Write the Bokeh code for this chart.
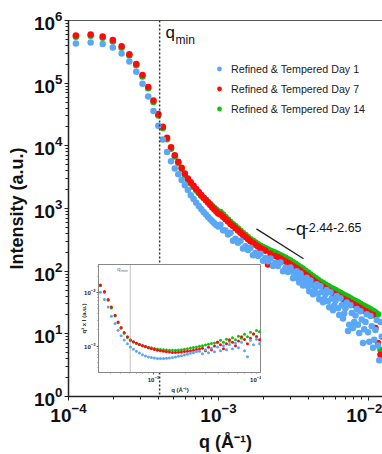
from bokeh.plotting import figure
from bokeh.models import Range1d, LogAxis, LogTicker, FixedTicker, Span, Label, Legend, LegendItem
from bokeh.layouts import column
from bokeh.embed import file_html
from bokeh.resources import INLINE

FONT = "Liberation Sans"
BLUE, RED, GREEN = "#5AA7F7", "#FF0A0A", "#12C012"

# ---------------- main plot data ----------------
Q_LOW = [1.120e-4, 1.405e-4, 1.690e-4, 1.975e-4, 2.260e-4, 2.545e-4, 2.830e-4, 3.115e-4,
         3.400e-4, 3.685e-4, 3.970e-4, 4.255e-4, 4.540e-4, 4.825e-4, 5.110e-4, 5.395e-4,
         5.680e-4, 5.965e-4, 6.250e-4, 6.535e-4, 6.820e-4, 7.105e-4, 7.390e-4, 7.675e-4,
         7.960e-4, 8.245e-4, 8.530e-4, 8.815e-4, 9.100e-4, 9.385e-4, 9.670e-4, 9.955e-4]
Q_HIGH = [1.031e-3, 1.072e-3, 1.113e-3, 1.157e-3, 1.202e-3, 1.249e-3, 1.298e-3, 1.349e-3, 1.402e-3, 1.456e-3,
          1.514e-3, 1.573e-3, 1.634e-3, 1.698e-3, 1.765e-3, 1.834e-3, 1.905e-3, 1.980e-3, 2.057e-3, 2.138e-3,
          2.222e-3, 2.309e-3, 2.399e-3, 2.493e-3, 2.590e-3, 2.692e-3, 2.797e-3, 2.906e-3, 3.020e-3, 3.138e-3,
          3.261e-3, 3.388e-3, 3.521e-3, 3.659e-3, 3.802e-3, 3.951e-3, 4.105e-3, 4.266e-3, 4.433e-3, 4.606e-3,
          4.786e-3, 4.974e-3, 5.168e-3, 5.370e-3, 5.581e-3, 5.799e-3, 6.026e-3, 6.262e-3, 6.507e-3, 6.761e-3,
          7.026e-3, 7.301e-3, 7.586e-3, 7.883e-3, 8.192e-3, 8.511e-3, 8.845e-3, 9.191e-3, 9.550e-3, 9.924e-3,
          1.031e-2, 1.072e-2, 1.113e-2, 1.157e-2, 1.202e-2]
# extra Day-1 points in the noisy high-q band
Q_BAND = [3.079e-3, 3.199e-3, 3.324e-3, 3.454e-3, 3.589e-3, 3.729e-3, 3.875e-3, 4.027e-3, 4.184e-3, 4.348e-3,
          4.519e-3, 4.695e-3, 4.879e-3, 5.070e-3, 5.268e-3, 5.474e-3, 5.689e-3, 5.911e-3, 6.142e-3, 6.383e-3,
          6.632e-3, 6.892e-3, 7.161e-3, 7.442e-3, 7.733e-3, 8.035e-3, 8.350e-3, 8.676e-3, 9.016e-3, 9.368e-3,
          9.735e-3, 1.0116e-2, 1.0512e-2, 1.0923e-2, 1.1350e-2, 1.1795e-2, 1.2256e-2]

DAY1_LOW = [4.28e5, 4.44e5, 4.21e5, 3.70e5, 2.97e5, 2.22e5, 1.52e5, 9.8e4, 6.1e4, 3.58e4,
            2.10e4, 1.26e4, 8.0e3, 5.7e3, 4.33e3, 3.52e3, 2.86e3, 2.35e3, 1.98e3, 1.62e3,
            1.42e3, 1.24e3, 1.10e3, 980, 880, 800, 730, 675, 625, 580, 545, 515]
DAY1_HIGH = [548, 448, 445, 385, 409, 306, 329, 284, 306, 231,
             250, 218, 237, 180, 197, 174, 190, 146, 162, 144,
             159, 122, 136, 121, 137, 99.7, 113, 97.4, 114, 77.3,
             91.2, 76.6, 91.8, 58.8, 70.7, 57.2, 71.1, 42.7, 54.6, 43.5,
             57.2, 31.9, 42.7, 33.2, 45.9, 23.8, 33.6, 25.5, 36.9, 17.5,
             25.6, 11.1, 28.6, 12.4, 19.7, 14.0, 23.0, 7.16, 15.5, 10.6,
             19.2, 5.97, 11.5, 6.54, 15.4]
DAY1_BAND = [99.5, 83.9, 99.7, 65.9, 78.5, 64.2, 78.2, 47.8, 59.7, 48.0,
             62.1, 35.6, 46.3, 35.9, 49.9, 26.6, 36.7, 28.2, 40.1, 19.9,
             28.6, 21.1, 31.5, 13.9, 21.5, 15.5, 25.0, 10.3, 16.9, 11.8,
             20.5, 7.45, 13.2, 8.05, 16.7, 3.78, 8.98]

DAY7_LOW = [5.78e5, 6.00e5, 5.57e5, 4.88e5, 3.87e5, 2.90e5, 2.03e5, 1.35e5, 8.7e4, 5.27e4,
            3.21e4, 2.02e4, 1.34e4, 9.5e3, 7.1e3, 5.58e3, 4.49e3, 3.61e3, 3.00e3, 2.63e3,
            2.31e3, 2.04e3, 1.83e3, 1.64e3, 1.49e3, 1.36e3, 1.24e3, 1.14e3, 1.04e3, 964, 896, 833]
DAY7_HIGH = [803, 736, 676, 620, 568, 524, 482, 444, 409, 379,
             351, 324, 300, 282, 264, 248, 233, 221, 211, 128,
             190, 123, 174, 166, 159, 150, 142, 135, 128, 120,
             113, 107, 101, 93.9, 87.8, 82.0, 76.6, 71.8, 67.4, 63.2,
             59.3, 55.9, 52.7, 49.6, 46.8, 44.5, 42.3, 40.3, 38.3, 36.4,
             34.6, 33.0, 31.3, 29.8, 28.4, 27.0, 25.6, 24.3, 23.0, 21.8,
             20.6, 19.9, 12.4, 7.16, 4.62]

DAY14_LOW = [5.49e5, 5.70e5, 5.29e5, 4.64e5, 3.68e5, 2.76e5, 1.93e5, 1.28e5, 8.3e4, 5.0e4,
             3.05e4, 1.92e4, 1.27e4, 9.0e3, 6.75e3, 5.3e3, 4.27e3, 3.43e3, 2.85e3, 2.50e3,
             2.20e3, 1.96e3, 1.77e3, 1.60e3, 1.49e3, 1.38e3, 1.27e3, 1.18e3, 1.09e3, 1.02e3, 955, 895]
DAY14_HIGH = [880, 803, 733, 670, 611, 563, 519, 478, 440, 408,
              377, 349, 323, 305, 287, 270, 255, 243, 233, 222,
              212, 204, 196, 188, 180, 171, 163, 155, 148, 139,
              131, 123, 116, 109, 102, 94.9, 88.6, 83.1, 78.0, 73.1,
              68.6, 64.9, 61.5, 58.2, 55.1, 52.4, 49.9, 47.5, 45.1, 42.9,
              40.8, 38.9, 36.9, 35.1, 33.4, 31.8, 30.2, 28.7, 27.3, 26.0,
              24.7, 23.4, 22.2, 20.6, 5.55]

SERIES_NAMES = ["Refined & Tempered Day 1", "Refined & Tempered Day 7", "Refined & Tempered Day 14"]

Q_MIN = 4.05e-4
SLOPE_Q = [1.79e-3, 3.69e-3]
SLOPE_I = [473, 158]

# ---------------- inset data (q^2 x I) ----------------
QI = [3.23e-4, 3.52e-4, 3.81e-4, 4.08e-4, 4.42e-4, 4.71e-4, 5.02e-4, 5.36e-4, 5.74e-4, 6.12e-4,
      6.53e-4, 6.96e-4, 7.42e-4, 7.91e-4, 8.43e-4, 8.99e-4, 9.58e-4, 1.021e-3, 1.089e-3, 1.161e-3,
      1.238e-3, 1.319e-3, 1.406e-3, 1.499e-3, 1.598e-3, 1.704e-3, 1.816e-3, 1.936e-3, 2.064e-3, 2.201e-3,
      2.346e-3, 2.501e-3, 2.666e-3, 2.842e-3, 3.030e-3, 3.230e-3, 3.443e-3, 3.671e-3, 3.913e-3, 4.172e-3,
      4.447e-3, 4.741e-3, 5.054e-3, 5.388e-3, 5.744e-3, 6.123e-3, 6.528e-3, 6.959e-3, 7.419e-3, 7.909e-3,
      8.431e-3, 8.988e-3, 9.583e-3]
INS_DAY1 = [1.000e-2, 7.34e-3, 5.29e-3, 3.57e-3, 2.61e-3, 1.971e-3, 1.547e-3, 1.290e-3, 1.102e-3, 9.58e-4,
            8.73e-4, 8.02e-4, 7.43e-4, 6.92e-4, 6.54e-4, 6.27e-4, 6.09e-4, 5.96e-4, 5.89e-4, 5.84e-4,
            5.86e-4, 5.91e-4, 6.01e-4, 6.14e-4, 6.27e-4, 6.43e-4, 6.63e-4, 6.83e-4, 7.06e-4, 7.31e-4,
            7.53e-4, 7.79e-4, 8.02e-4, 7.21e-4, 8.55e-4, 7.53e-4, 9.07e-4, 7.85e-4, 9.58e-4, 8.19e-4,
            1.013e-3, 8.55e-4, 1.066e-3, 8.92e-4, 1.121e-3, 9.30e-4, 1.180e-3, 8.19e-4, 6.35e-4, 1.274e-3,
            1.056e-3, 1.340e-3, 1.102e-3]
INS_DAY7 = [1.363e-2, 1.030e-2, 7.34e-3, 5.29e-3, 3.72e-3, 2.80e-3, 2.20e-3, 1.780e-3, 1.484e-3, 1.290e-3,
            1.200e-3, 1.126e-3, 1.066e-3, 1.013e-3, 9.71e-4, 9.30e-4, 8.92e-4, 8.62e-4, 8.37e-4, 8.19e-4,
            8.02e-4, 7.85e-4, 7.72e-4, 7.62e-4, 7.62e-4, 7.69e-4, 7.75e-4, 7.88e-4, 8.02e-4, 8.19e-4,
            8.37e-4, 8.58e-4, 8.81e-4, 9.07e-4, 8.19e-4, 9.54e-4, 8.55e-4, 1.004e-3, 1.175e-3, 1.052e-3,
            8.92e-4, 1.107e-3, 1.306e-3, 1.170e-3, 1.013e-3, 1.242e-3, 1.484e-3, 1.317e-3, 1.102e-3, 1.392e-3,
            1.685e-3, 1.496e-3, 1.306e-3]
INS_DAY14 = [1.318e-2, 1.000e-2, 7.12e-3, 5.07e-3, 3.61e-3, 2.72e-3, 2.15e-3, 1.735e-3, 1.446e-3, 1.262e-3,
             1.185e-3, 1.121e-3, 1.070e-3, 1.026e-3, 9.87e-4, 9.54e-4, 9.26e-4, 9.03e-4, 8.84e-4, 8.66e-4,
             8.51e-4, 8.41e-4, 8.33e-4, 8.33e-4, 8.37e-4, 8.44e-4, 8.55e-4, 8.73e-4, 8.92e-4, 9.15e-4,
             9.38e-4, 9.63e-4, 9.92e-4, 1.017e-3, 1.047e-3, 1.079e-3, 1.112e-3, 1.141e-3, 1.175e-3, 1.279e-3,
             1.175e-3, 1.334e-3, 1.226e-3, 1.422e-3, 1.306e-3, 1.515e-3, 1.392e-3, 1.649e-3, 1.484e-3, 1.795e-3,
             1.649e-3, 1.954e-3, 1.834e-3]
Q_MIN_INSET = 6.1e-4
INSET_X_TICKS = [1e-3, 1e-2]
INSET_X_MINOR = [4e-4, 5e-4, 6e-4, 7e-4, 8e-4, 9e-4, 2e-3, 3e-3, 4e-3, 5e-3, 6e-3, 7e-3, 8e-3, 9e-3]
INSET_Y_TICKS = [1e-3, 1e-2]
INSET_Y_MINOR = [4e-4, 5e-4, 6e-4, 7e-4, 8e-4, 9e-4, 2e-3, 3e-3, 4e-3, 5e-3, 6e-3, 7e-3, 8e-3, 9e-3,
                 2e-2, 3e-2]

# ---------------- main figure ----------------
q_all = Q_LOW + Q_HIGH
q_day1 = Q_LOW + Q_HIGH + Q_BAND
day1 = DAY1_LOW + DAY1_HIGH + DAY1_BAND
day7 = DAY7_LOW + DAY7_HIGH
day14 = DAY14_LOW + DAY14_HIGH

p = figure(width=382, height=454, x_axis_type="log", y_axis_type="log",
           x_range=Range1d(1e-4, 1.240e-2), y_range=Range1d(1, 1e6),
           output_backend="svg", toolbar_location=None,
           min_border_left=68, min_border_right=0, min_border_top=20, min_border_bottom=55,
           background_fill_color="white", border_fill_color="white")
p.grid.visible = False
p.outline_line_color = None

p.add_layout(Span(location=Q_MIN, dimension="height", line_color="#333333",
                  line_dash="2 2", line_width=1.5))

rg = p.scatter(q_all, day14, size=6.5, fill_color=GREEN, line_color=None)
rr = p.scatter(q_all, day7, size=6.5, fill_color=RED, line_color=None)
rb = p.scatter(q_day1, day1, size=6.5, fill_color=BLUE, line_color=None)

p.line(SLOPE_Q, SLOPE_I, line_color="#222222", line_width=1.3)

for ax in (p.xaxis[0], p.yaxis[0]):
    ax.ticker = LogTicker(num_minor_ticks=10)
    ax.axis_line_color = "#222222"
    ax.axis_line_width = 1.5
    ax.major_tick_line_color = "#222222"
    ax.minor_tick_line_color = "#222222"
    ax.major_tick_out = 4
    ax.major_tick_in = 0
    ax.minor_tick_out = 3
    ax.minor_tick_in = 0
    ax.major_label_text_font = FONT
    ax.major_label_text_font_style = "bold"
    ax.major_label_text_font_size = "19px"
    ax.major_label_text_color = "#111111"
    ax.major_label_standoff = 2
    ax.axis_label_text_font = FONT
    ax.axis_label_text_font_style = "bold"
    ax.axis_label_text_font_size = "18px"
    ax.axis_label_text_color = "#111111"

p.xaxis.axis_label = "q (Å⁻¹)"
p.xaxis.axis_label_standoff = 7
p.yaxis.axis_label = "Intensity (a.u.)"
p.yaxis.axis_label_standoff = 4

top = LogAxis(ticker=FixedTicker(ticks=[]), axis_line_color="#555555", axis_line_width=1.2,
              major_tick_line_color=None, minor_tick_line_color=None,
              major_label_text_font_size="0px")
p.add_layout(top, "above")

p.add_layout(Label(x=Q_MIN, y=4.48e5, x_offset=6, text="q", text_font=FONT,
                   text_font_size="17px", text_color="#111111"))
p.add_layout(Label(x=Q_MIN, y=4.48e5, x_offset=16, y_offset=-5, text="min", text_font=FONT,
                   text_font_size="12px", text_color="#111111"))
p.add_layout(Label(x=2.80e-3, y=329, text="~q", text_font=FONT,
                   text_font_size="18px", text_color="#111111"))
p.add_layout(Label(x=2.80e-3, y=329, x_offset=19, y_offset=7, text="-2.44-2.65", text_font=FONT,
                   text_font_size="12.5px", text_color="#111111"))

legend = Legend(items=[LegendItem(label=SERIES_NAMES[0], renderers=[rb]),
                       LegendItem(label=SERIES_NAMES[1], renderers=[rr]),
                       LegendItem(label=SERIES_NAMES[2], renderers=[rg])],
                location=(145, 281), padding=0, margin=0, spacing=7,
                glyph_width=12, glyph_height=13, label_height=13, label_standoff=6,
                border_line_color=None, background_fill_alpha=0,
                label_text_font=FONT, label_text_font_size="10.7px", label_text_color="#1a1a1a")
p.add_layout(legend)

# ---------------- inset ----------------
# (the column aligns the left border with the main plot's 68 px border)
ins = figure(width=231, height=137, x_axis_type="log", y_axis_type="log",
             x_range=Range1d(3.10e-4, 1.0e-2), y_range=Range1d(3.22e-4, 3.28e-2),
             output_backend="svg", toolbar_location=None,
             min_border_left=68, min_border_right=0, min_border_top=6, min_border_bottom=22,
             background_fill_color="white", border_fill_color=None,
             styles={"position": "absolute", "left": "30px", "top": "258px", "z-index": "5"})
ins.grid.visible = False
ins.outline_line_color = "#888888"
ins.add_layout(Span(location=Q_MIN_INSET, dimension="height", line_color="#888888",
                    line_dash="1 1", line_width=1))
ins.scatter(QI, INS_DAY14, size=3, fill_color=GREEN, line_color=None)
ins.scatter(QI, INS_DAY7, size=3, fill_color=RED, line_color=None)
ins.scatter(QI, INS_DAY1, size=3, fill_color=BLUE, line_color=None)

ins.xaxis.ticker = FixedTicker(ticks=INSET_X_TICKS, minor_ticks=INSET_X_MINOR)
ins.yaxis.ticker = FixedTicker(ticks=INSET_Y_TICKS, minor_ticks=INSET_Y_MINOR)
for ax in (ins.xaxis[0], ins.yaxis[0]):
    ax.axis_line_color = "#888888"
    ax.major_tick_line_color = "#666666"
    ax.minor_tick_line_color = "#888888"
    ax.major_tick_out = 2
    ax.major_tick_in = 0
    ax.minor_tick_out = 1
    ax.minor_tick_in = 0
    ax.major_label_text_font = FONT
    ax.major_label_text_font_style = "bold"
    ax.major_label_text_font_size = "6px"
    ax.major_label_text_color = "#222222"
    ax.major_label_standoff = 1
    ax.axis_label_text_font = FONT
    ax.axis_label_text_font_style = "bold"
    ax.axis_label_text_font_size = "6px"
    ax.axis_label_text_color = "#222222"
ins.xaxis.axis_label = "q (Å⁻¹)"
ins.xaxis.axis_label_standoff = 2
ins.yaxis.axis_label = "q² x I (a.u.)"
ins.yaxis.axis_label_standoff = -6

ins.add_layout(Label(x=Q_MIN_INSET, y=2.4e-2, x_offset=-13, text="q", text_font=FONT,
                     text_font_size="6px", text_color="#666666"))
ins.add_layout(Label(x=Q_MIN_INSET, y=2.4e-2, x_offset=-9, y_offset=-1, text="min", text_font=FONT,
                     text_font_size="4px", text_color="#666666"))

layout = column(p, ins)
open("out.html", "w").write(file_html(layout, INLINE))
